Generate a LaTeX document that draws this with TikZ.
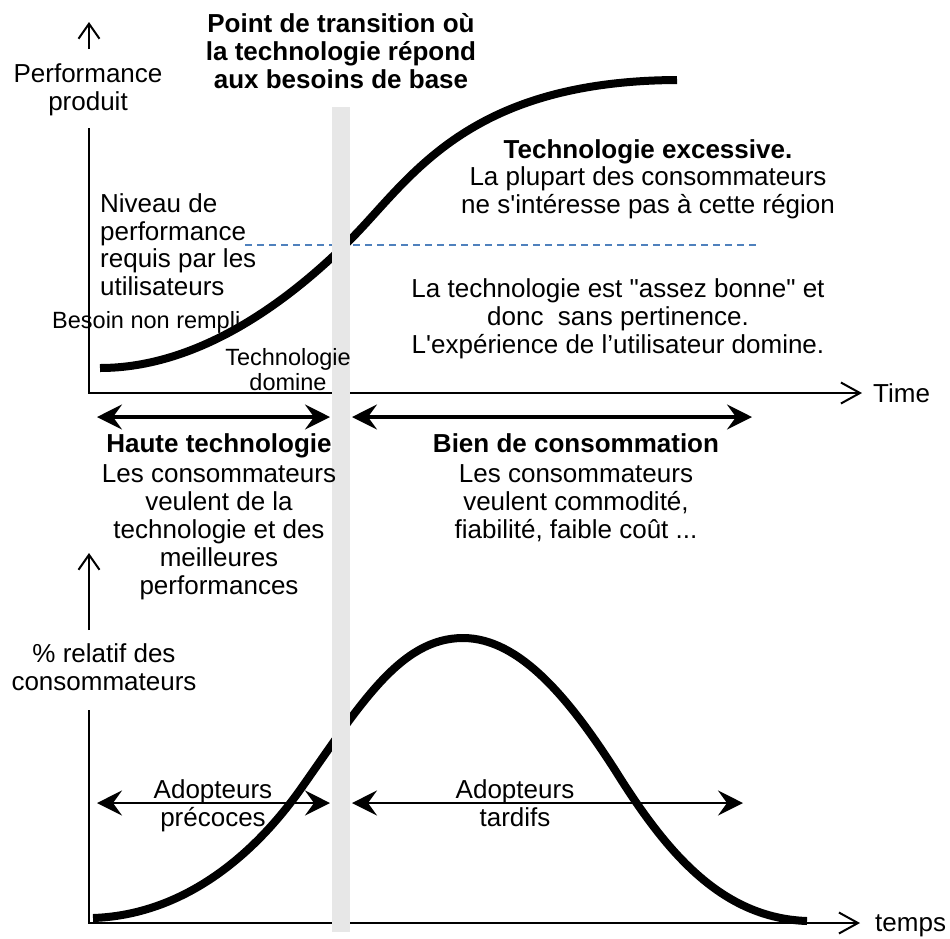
\documentclass[tikz,border=0pt]{standalone}
\usepackage{fontspec}
\setmainfont{Liberation Sans}
\usetikzlibrary{arrows.meta}
\definecolor{barGrey}{RGB}{231,231,231}
\definecolor{dashBlue}{RGB}{79,129,189}
\begin{document}
\begin{tikzpicture}[x=1pt,y=-1pt,
  txt/.style={font=\fontsize{26}{28}\selectfont, inner sep=0pt, align=center, anchor=base},
  txtl/.style={font=\fontsize{26}{27.5}\selectfont, inner sep=0pt, align=left, anchor=base west},
  small/.style={font=\fontsize{23.5}{25}\selectfont, inner sep=0pt, align=center, anchor=base},
  ttl/.style={font=\fontsize{26}{28}\selectfont\bfseries, inner sep=0pt, align=center, anchor=base},
  curve/.style={line width=8pt},
  axisline/.style={line width=2pt, -{Straight Barb[length=19pt,width=21pt,line width=2pt]}},
  upaxis/.style={line width=2pt, -{Straight Barb[length=15pt,width=21pt,line width=2pt]}},
  dblthick/.style={line width=3.3pt, {Stealth[length=25pt,width=25pt,inset=9pt]}-{Stealth[length=25pt,width=25pt,inset=9pt]}},
  dblthin/.style={line width=2.4pt, {Stealth[length=25pt,width=25pt,inset=9pt]}-{Stealth[length=25pt,width=25pt,inset=9pt]}}
]
\useasboundingbox (0,0) rectangle (950,938);

% coordinates
\coordinate (tAxTop) at (89,128);
\coordinate (tOrig) at (89,393);
\coordinate (tAxEnd) at (862,393);
\coordinate (tUpS) at (89,49);
\coordinate (tUpE) at (89,22);
\coordinate (bAxTop) at (89,710);
\coordinate (bOrig) at (89,923);
\coordinate (bAxEnd) at (860,923);
\coordinate (bUpS) at (89,630);
\coordinate (bUpE) at (89,553);
\coordinate (dashS) at (245,245);
\coordinate (dashE) at (760,245);
\coordinate (hL1) at (97,417);
\coordinate (hL2) at (330,417);
\coordinate (hR1) at (352,417);
\coordinate (hR2) at (752,417);
\coordinate (aL1) at (97,803);
\coordinate (aL2) at (330,803);
\coordinate (aR1) at (352,803);
\coordinate (aR2) at (743,803);

% dashed requirement level
\draw[dashBlue, line width=1.2pt, dash pattern=on 7pt off 5pt] (dashS) -- (dashE);

% curves
\draw[curve] (100,368) .. controls (200,368) and (290,300) .. (350,240)
  .. controls (410,180) and (465,81) .. (677,80);
\draw[curve] (93,918) .. controls (180,915) and (250,860) .. (300,790)
  .. controls (360,705) and (400,638) .. (463,638)
  .. controls (520,638) and (570,700) .. (615,770)
  .. controls (665,850) and (720,918) .. (807,921);

% axes
\draw[axisline] (tAxTop) -- (tOrig) -- (tAxEnd);
\draw[upaxis] (tUpS) -- (tUpE);
\draw[axisline] (bAxTop) -- (bOrig) -- (bAxEnd);
\draw[upaxis] (bUpS) -- (bUpE);

% double arrows
\draw[dblthick] (hL1) -- (hL2);
\draw[dblthick] (hR1) -- (hR2);
\draw[dblthin] (aL1) -- (aL2);
\draw[dblthin] (aR1) -- (aR2);

% transition bar
\fill[barGrey] (332,107) rectangle (350,932);

% texts (anchor base = baseline of last line)
\node[txt] (perf) at (88,110) {Performance\\produit};
\node[ttl] (title) at (341,88) {Point de transition où\\la technologie répond\\aux besoins de base};
\node[ttl] (excess) at (648,158) {Technologie excessive.};
\node[txt] (excess2) at (648,213) {La plupart des consommateurs\\ne s\textquotesingle intéresse pas à cette région};
\node[txtl] (niveau) at (100,295) {Niveau de\\performance\\requis par les\\utilisateurs};
\node[small, anchor=base west] (besoin) at (52,328) {Besoin non rempli};
\node[small] (techdom) at (288,390) {Technologie\\domine};
\node[txt] (assez) at (618,353) {La technologie est \textquotedbl assez bonne\textquotedbl{} et\\donc\ \ sans pertinence.\\L\textquotesingle expérience de l’utilisateur domine.};
\node[txt, anchor=base west] (time) at (873,402) {Time};
\node[ttl] (haute) at (219,452) {Haute technologie};
\node[txt] (haute2) at (219,594) {Les consommateurs\\veulent de la\\technologie et des\\meilleures\\performances};
\node[ttl] (bien) at (576,452) {Bien de consommation};
\node[txt] (bien2) at (576,538) {Les consommateurs\\veulent commodité,\\fiabilité, faible coût ...};
\node[txt] (pct) at (104,690) {\% relatif des\\consommateurs};
\node[txt] (prec) at (213,826) {Adopteurs\\précoces};
\node[txt] (tard) at (515,826) {Adopteurs\\tardifs};
\node[txt, anchor=base west] (temps) at (875,931) {temps};
\end{tikzpicture}
\end{document}
